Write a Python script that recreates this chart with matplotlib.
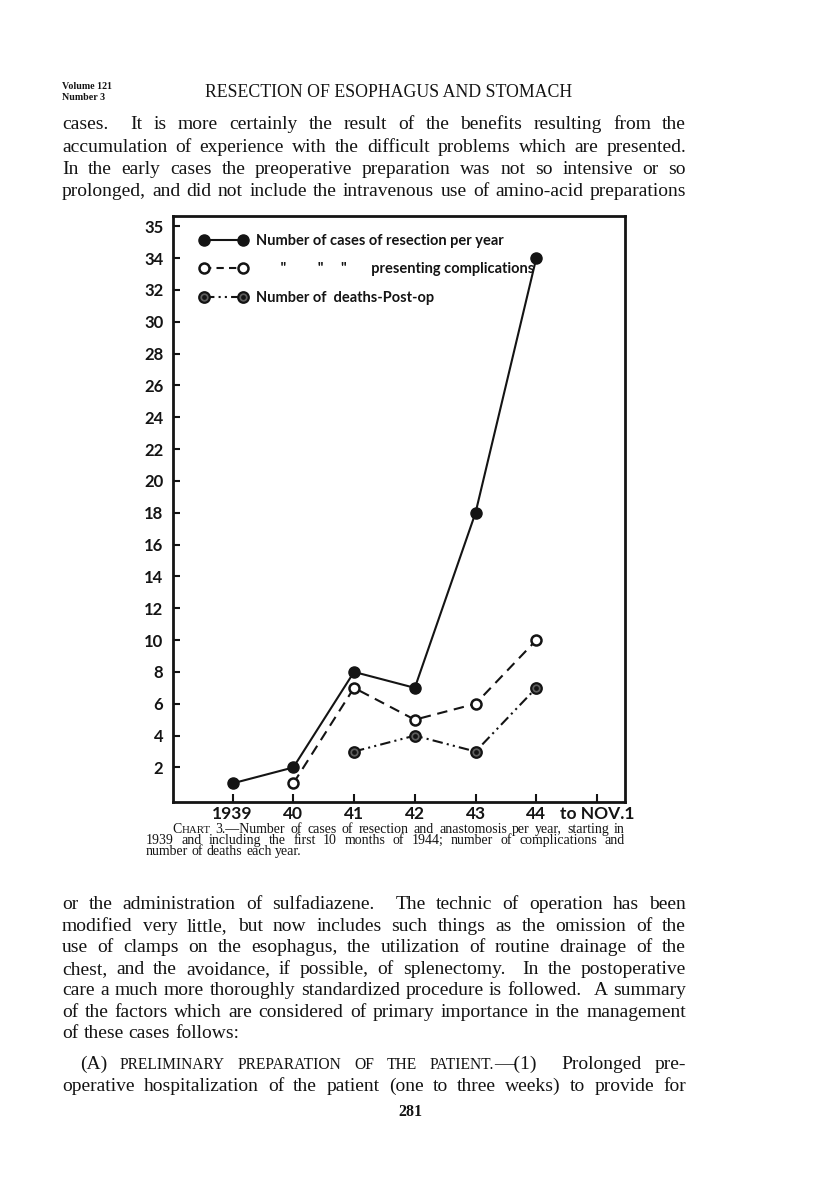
import matplotlib
matplotlib.use("Agg")
import matplotlib.pyplot as plt
from matplotlib.lines import Line2D
from matplotlib.legend_handler import HandlerTuple

# ---------------- data ----------------
years = [1939, 1940, 1941, 1942, 1943, 1944]
resections = [1, 2, 8, 7, 18, 34]
comp_years = [1940, 1941, 1942, 1943, 1944]
complications = [1, 7, 5, 6, 10]
death_years = [1941, 1942, 1943, 1944]
deaths = [3, 4, 3, 7]

xtick_pos = [1939, 1940, 1941, 1942, 1943, 1944, 1945]
xtick_labels = ["1939", "40", "41", "42", "43", "44", "to NOV.1"]
ytick_pos = [2, 4, 6, 8, 10, 12, 14, 16, 18, 20, 22, 24, 26, 28, 30, 32, 34, 36]
ytick_labels = ["2", "4", "6", "8", "10", "12", "14", "16", "18", "20", "22",
                "24", "26", "28", "30", "32", "34", "35"]

legend_labels = ["Number of cases of resection per year",
                 '       "         "     "       presenting complications',
                 "Number of  deaths-Post-op"]

header_small = ["Volume 121", "Number 3"]
header_title = "RESECTION OF ESOPHAGUS AND STOMACH"

top_lines = [
    "cases.  It is more certainly the result of the benefits resulting from the",
    "accumulation of experience with the difficult problems which are presented.",
    "In the early cases the preoperative preparation was not so intensive or so",
    "prolonged, and did not include the intravenous use of amino-acid preparations",
]
bottom_lines = [
    "or the administration of sulfadiazene.  The technic of operation has been",
    "modified very little, but now includes such things as the omission of the",
    "use of clamps on the esophagus, the utilization of routine drainage of the",
    "chest, and the avoidance, if possible, of splenectomy.  In the postoperative",
    "care a much more thoroughly standardized procedure is followed.  A summary",
    "of the factors which are considered of primary importance in the management",
    "of these cases follows:",
]
caption_lines = [
    "3.\u2014Number of cases of resection and anastomosis per year, starting in",
    "1939 and including the first 10 months of 1944; number of complications and",
    "number of deaths each year.",
]
section_line = "Prolonged pre-"
section_line2 = "operative hospitalization of the patient (one to three weeks) to provide for"
page_number = "281"

INK = "#141414"
SERIF = ["Liberation Serif", "DejaVu Serif"]
SANS = ["Lato", "DejaVu Sans"]

W, H = 816, 1200
fig = plt.figure(figsize=(W / 100, H / 100), dpi=100)
fig.patch.set_facecolor("white")
renderer = fig.canvas.get_renderer()


def fx(x):
    return x / W


def fy(y):
    return 1 - y / H


def parse(s):
    words, weights = [], []
    for tok in s.split(" "):
        if tok == "":
            if weights:
                weights[-1] += 1
        else:
            words.append([(tok, 1.0)])
            weights.append(1)
    return words, weights


def measure(words, size, family, weight="normal"):
    out = []
    for w in words:
        segs = []
        for (t, sc) in w:
            txt = fig.text(0, 0, t, fontsize=size * sc, family=family,
                           fontweight=weight, color=INK, va="baseline", ha="left")
            segs.append((txt, txt.get_window_extent(renderer).width))
        out.append(segs)
    return out


def render(words, weights, x0, x1, y, size, family, justify=True, weight="normal"):
    items = measure(words, size, family, weight)
    widths = [sum(s[1] for s in it) for it in items]
    gw = sum(weights[:-1]) if len(weights) > 1 else 1
    if justify:
        gap = (x1 - x0 - sum(widths)) / gw
    else:
        gap = 0.26 * size * 1.389
    x = x0
    for i, it in enumerate(items):
        for (txt, wpx) in it:
            txt.set_position((fx(x), fy(y)))
            x += wpx
        x += gap * weights[i]


def natural(s, size, family, sp):
    words, weights = parse(s)
    items = measure(words, size, family)
    tot = sum(s2[1] for it in items for s2 in it)
    for it in items:
        for (t, _) in it:
            t.remove()
    return tot + sum(weights[:-1]) * sp * size * 1.389


def fit_size(lines, target, smax, sp=0.2):
    s0 = 12.0
    r = min(target / natural(l, s0, SERIF, sp) for l in lines)
    return min(smax, s0 * r)


# ---------------- header ----------------
fig.text(fx(62), fy(89), header_small[0], fontsize=7.2, family=SERIF,
         fontweight="bold", color=INK, va="baseline")
fig.text(fx(62), fy(99.5), header_small[1], fontsize=7.2, family=SERIF,
         fontweight="bold", color=INK, va="baseline")
ht = fig.text(fx(205), fy(97), header_title, fontsize=12.3, family=SERIF,
              color=INK, va="baseline")
hw = ht.get_window_extent(renderer).width
ht.set_fontsize(12.3 * 367 / hw)

# ---------------- body text ----------------
X0, X1 = 62, 686
body_size = fit_size(top_lines + bottom_lines[:-1], X1 - X0, 14.0, sp=0.18)
for l, yb in zip(top_lines, [129, 152, 174, 196]):
    w, wt = parse(l)
    render(w, wt, X0, X1, yb, body_size, SERIF)
for i, (l, yb) in enumerate(zip(bottom_lines, [909, 931, 952, 974, 995, 1017, 1038])):
    w, wt = parse(l)
    render(w, wt, X0, X1, yb, body_size, SERIF, justify=(i < len(bottom_lines) - 1))

# section heading with small caps
sc = 0.8
sec_words = [[("(A)", 1.0)], [("PRELIMINARY", sc)], [("PREPARATION", sc)], [("OF", sc)],
             [("THE", sc)], [("PATIENT.", sc), ("\u2014(1)", 1.0)]]
sec_weights = [1, 1, 1, 1, 1, 2]
w2, wt2 = parse(section_line)
render(sec_words + w2, sec_weights + wt2, 80, X1, 1069, body_size, SERIF)
w3, wt3 = parse(section_line2)
render(w3, wt3, X0, X1, 1091, body_size, SERIF)

fig.text(fx(410), fy(1116), page_number, fontsize=11.5, family=SERIF,
         fontweight="bold", color=INK, va="baseline", ha="center")

# ---------------- caption ----------------
cap_size = fit_size(caption_lines[1:2], 625 - 146, 10.0, sp=0.45)
cw, cwt = parse(caption_lines[0])
render([[("C", 1.0), ("HART", 0.78)]] + cw, [1] + cwt, 172, 625, 833, cap_size, SERIF)
cw, cwt = parse(caption_lines[1])
render(cw, cwt, 146, 625, 844, cap_size, SERIF)
cw, cwt = parse(caption_lines[2])
render(cw, cwt, 146, 625, 855, cap_size, SERIF, justify=False)

# ---------------- chart ----------------
ax = fig.add_axes([fx(173), fy(802), (625 - 173) / W, (802 - 216) / H])
ax.set_xlim(1938.02, 1945.46)
ax.set_ylim(-0.17, 36.64)

ls_dash = (0, (5, 3.2))
ls_dd = (0, (5, 2, 1, 2, 1, 2))

ax.plot(years, resections, color=INK, lw=1.5, marker="o", ms=8,
        mfc=INK, mec=INK, zorder=3)
ax.plot(comp_years, complications, color=INK, lw=1.5, ls=ls_dash, marker="o",
        ms=7.2, mfc="white", mec=INK, mew=1.8, zorder=3)
ax.plot(death_years, deaths, color=INK, lw=1.5, ls=ls_dd, marker="o",
        ms=7.6, mfc="#5e5e5e", mec=INK, mew=1.6, zorder=3)
ax.plot(death_years, deaths, ls="none", marker="o", ms=2.4, mfc=INK, mec=INK, zorder=4)

for s in ax.spines.values():
    s.set_linewidth(2.0)
    s.set_color(INK)

ax.set_xticks(xtick_pos)
ax.set_xticklabels(xtick_labels)
ax.set_yticks(ytick_pos)
ax.set_yticklabels(ytick_labels)
ax.tick_params(axis="y", direction="in", length=5, width=1.5, pad=7,
               labelsize=12, colors=INK)
ax.tick_params(axis="x", direction="in", length=6, width=1.5, pad=3,
               labelsize=12.5, colors=INK)
for lab in ax.get_xticklabels() + ax.get_yticklabels():
    lab.set_family(SANS)
    lab.set_fontweight("bold")

h1 = Line2D([], [], color=INK, lw=1.5, marker="o", ms=8, mfc=INK, mec=INK)
h2 = Line2D([], [], color=INK, lw=1.5, ls=(0, (3.5, 2.5)), marker="o", ms=7.2,
            mfc="white", mec=INK, mew=1.8)
h3a = Line2D([], [], color=INK, lw=1.5, ls=(0, (5, 2, 1, 2, 1, 2)), marker="o",
             ms=7.6, mfc="#5e5e5e", mec=INK, mew=1.6)
h3b = Line2D([], [], ls="none", marker="o", ms=2.4, mfc=INK, mec=INK)
leg = ax.legend([h1, h2, (h3a, h3b)], legend_labels, loc="upper left",
                bbox_to_anchor=(0.03, 0.992), frameon=False, numpoints=2,
                handlelength=3.3, handletextpad=0.55, labelspacing=1.0,
                prop={"family": SANS, "weight": "bold", "size": 10.5},
                handler_map={tuple: HandlerTuple(ndivide=1)})
for t in leg.get_texts():
    t.set_color(INK)

fig.savefig("out.png", dpi=100, facecolor="white")
